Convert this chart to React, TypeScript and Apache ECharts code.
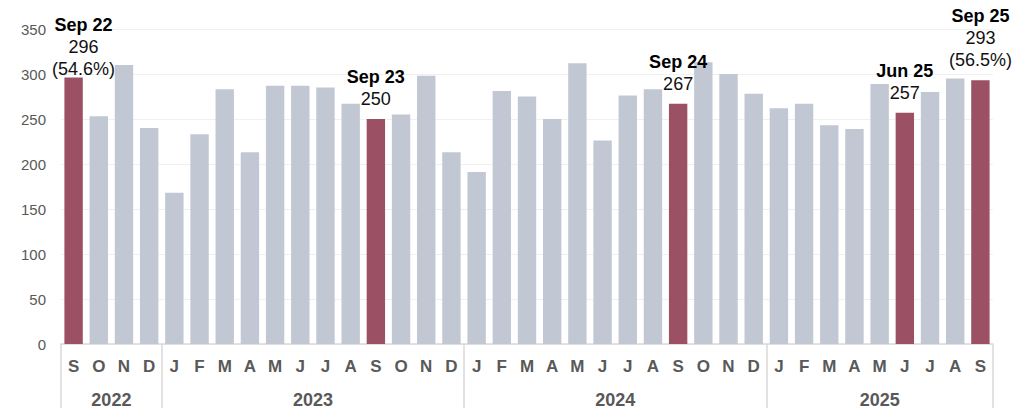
import React, { useEffect, useRef } from "react";
import * as echarts from "echarts";

const months = ["S","O","N","D","J","F","M","A","M","J","J","A","S","O","N","D","J","F","M","A","M","J","J","A","S","O","N","D","J","F","M","A","M","J","J","A","S"];
const years = ["2022", "2023", "2024", "2025"];
const monthsPerYear = [4, 12, 12, 9];
const values = [296,253,310,240,168,233,283,213,287,287,285,267,250,255,298,213,191,281,275,250,312,226,276,283,267,313,300,278,262,267,243,239,289,257,280,295,293];
const highlightIndex = [0, 12, 24, 33, 36];
const highlightTitles = ["Sep 22", "Sep 23", "Sep 24", "Jun 25", "Sep 25"];
const highlightShares = ["54.6%", "", "", "", "56.5%"];
const yTicks = [0, 50, 100, 150, 200, 250, 300, 350];

const FONT = "'Liberation Sans', Arial, Helvetica, sans-serif";
const GREY = "#C1C8D3";
const RED = "#9B5064";

export default function App() {
  const ref = useRef<HTMLDivElement>(null);
  useEffect(() => {
    document.body.style.margin = "0";
    if (!ref.current) return;
    const chart = echarts.init(ref.current, undefined, { renderer: "svg" });

    const categories = months.map((m, i) => `${m}-${i}`);
    const groupStarts: number[] = [];
    let acc = 0;
    monthsPerYear.forEach((n) => { groupStarts.push(acc); acc += n; });
    const anchors: Record<number, { year: string; even: boolean }> = {};
    monthsPerYear.forEach((n, g) => {
      const s = groupStarts[g];
      if (n % 2 === 1) anchors[s + (n - 1) / 2] = { year: years[g], even: false };
      else anchors[s + n / 2 - 1] = { year: years[g], even: true };
    });

    const data = values.map((v, i) => {
      const h = highlightIndex.indexOf(i);
      if (h < 0) return { value: v, itemStyle: { color: GREY } };
      const lines = [`{t|${highlightTitles[h]}}`, `{v|${v}}`];
      if (highlightShares[h]) lines.push(`{v|(${highlightShares[h]})}`);
      return {
        value: v,
        itemStyle: { color: RED },
        label: {
          show: true,
          position: "top",
          distance: h === 0 ? -2 : 9,
          offset: h === 0 ? [10, 0] : [0, 0],
          formatter: lines.join("\n"),
          rich: {
            t: { fontFamily: FONT, fontSize: 18, fontWeight: "bold", color: "#000", lineHeight: 22 },
            v: { fontFamily: FONT, fontSize: 18, color: "#111", lineHeight: 22 },
          },
        },
      };
    });

    chart.setOption({
      animation: false,
      grid: { left: 61, right: 40, top: 29, bottom: 62.5, containLabel: false },
      xAxis: [
        {
          type: "category",
          data: categories,
          axisLine: { show: true, lineStyle: { color: "#d9d9d9", width: 1.5 } },
          axisTick: { show: false },
          axisLabel: {
            interval: 0,
            margin: 14,
            fontFamily: FONT,
            fontSize: 17,
            fontWeight: "bold",
            color: "#595959",
            formatter: (v: string) => v.split("-")[0],
          },
        },
        {
          type: "category",
          position: "bottom",
          data: categories,
          axisLine: { show: false },
          axisTick: {
            show: true,
            length: 64,
            interval: (i: number) => groupStarts.indexOf(i) >= 0,
            lineStyle: { color: "#d9d9d9", width: 1.5 },
          },
          axisLabel: {
            interval: (i: number) => anchors[i] !== undefined,
            margin: 47,
            formatter: (_v: string, i: number) => {
              const a = anchors[i];
              if (!a) return "";
              return a.even ? `{e|${a.year}}` : `{o|${a.year}}`;
            },
            rich: {
              e: { fontFamily: FONT, fontSize: 18, fontWeight: "bold", color: "#595959", padding: [0, 0, 0, 25.2] },
              o: { fontFamily: FONT, fontSize: 18, fontWeight: "bold", color: "#595959" },
            },
          },
        },
      ],
      yAxis: {
        type: "value",
        min: yTicks[0],
        max: yTicks[yTicks.length - 1],
        interval: 50,
        axisLine: { show: false },
        axisTick: { show: false },
        splitLine: { lineStyle: { color: "#f0f0f0", width: 1 } },
        axisLabel: { margin: 15, fontFamily: FONT, fontSize: 15, color: "#595959" },
      },
      series: [
        {
          type: "bar",
          xAxisIndex: 0,
          data,
          barCategoryGap: "27%",
          label: { show: false },
        },
      ],
    });
    return () => chart.dispose();
  }, []);
  return <div ref={ref} style={{ width: 1033, height: 409 }} />;
}
